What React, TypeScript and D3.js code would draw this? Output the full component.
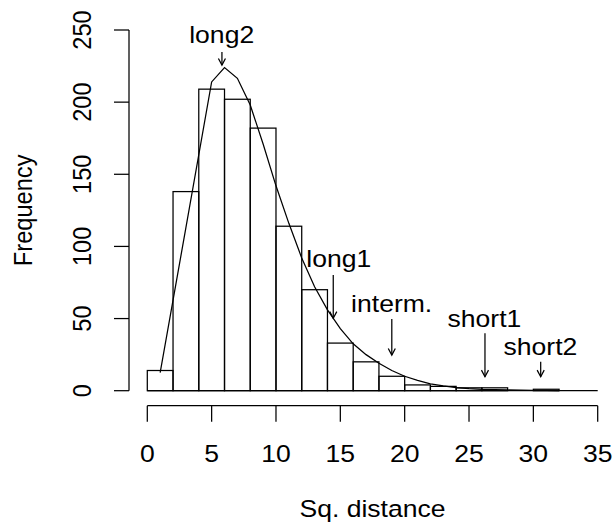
import React from "react";
import * as d3 from "d3";

// Histogram: bin breaks (width 2) and counts
const binStarts = [0, 2, 4, 6, 8, 10, 12, 14, 16, 18, 20, 22, 24, 26, 28, 30];
const binWidth = 2;
const counts = [14, 138, 209, 202, 182, 114, 70, 33, 20, 10, 4, 3, 2, 2, 0, 1];

// Fitted curve
const curveX = [1, 3, 5, 6, 7, 8, 9, 10, 11, 12, 13, 14, 15, 16, 17, 18, 19, 20, 21, 22, 23, 24, 25, 26, 27, 28, 29, 30, 31, 32];
const curveY = [12.5, 113, 214, 224, 216.5, 198, 171, 142, 116, 92, 72, 56, 43, 32.5, 25, 19, 14, 10, 7.2, 4.8, 3.3, 2.2, 1.5, 1.0, 0.7, 0.5, 0.35, 0.25, 0.17, 0.12];

// Annotations
const annLabels = ["long2", "long1", "interm.", "short1", "short2"];
const annLabelX = [5.78, 14.88, 18.99, 26.2, 30.55];
const annLabelY = [240.7, 85.9, 54.7, 44.4, 24.7];
const annArrowX = [5.8, 14.45, 19.0, 26.24, 30.57];
const annArrowTop = [234.7, 80.2, 49.7, 39.8, 20.1];
const annArrowTip = [225.7, 50.2, 24.7, 9.7, 9.7];

// Axes
const xTicks = [0, 5, 10, 15, 20, 25, 30, 35];
const yTicks = [0, 50, 100, 150, 200, 250];
const xLabel = "Sq. distance";
const yLabel = "Frequency";

const W = 614;
const H = 526;
const SX = 1.18;
const SY = 1.05;
const FS = 22.5;
const FONT = "'Liberation Sans', Arial, Helvetica, sans-serif";
const LW = 1.25;

export default function App() {
  const x = d3.scaleLinear().domain([0, 35]).range([147.3, 597.7]);
  const y = d3.scaleLinear().domain([0, 250]).range([390.7, 30]);

  const line = d3
    .line<number>()
    .x((_, i) => x(curveX[i]))
    .y((d) => y(d));

  const headLen = 7.5;
  const ang = (28 * Math.PI) / 180;
  const hdx = headLen * Math.sin(ang);
  const hdy = headLen * Math.cos(ang);

  const xAxisY = 405.7;
  const yAxisX = 129;

  return (
    <svg
      width={W}
      height={H}
      style={{ position: "absolute", left: 0, top: 0, background: "#fff" }}
      fontFamily={FONT}
    >
      <rect x={0} y={0} width={W} height={H} fill="#fff" />
      {/* bars */}
      <g fill="none" stroke="#000" strokeWidth={LW}>
        {counts.map((c, i) => (
          <rect
            key={i}
            x={x(binStarts[i])}
            y={y(c)}
            width={x(binStarts[i] + binWidth) - x(binStarts[i])}
            height={y(0) - y(c)}
          />
        ))}
        <line x1={x(0)} x2={x(35)} y1={y(0)} y2={y(0)} />
      </g>
      {/* curve */}
      <path d={line(curveY) || ""} fill="none" stroke="#000" strokeWidth={LW} />

      {/* annotations */}
      {annLabels.map((lab, i) => {
        const ax = x(annArrowX[i]);
        const y1 = y(annArrowTop[i]);
        const y2 = y(annArrowTip[i]);
        return (
          <g key={lab}>
            <text
              transform={`translate(${x(annLabelX[i])},${y(annLabelY[i])}) scale(${SX},${SY})`}
              textAnchor="middle"
              fontSize={FS}
            >
              {lab}
            </text>
            <g stroke="#000" strokeWidth={LW} fill="none">
              <line x1={ax} x2={ax} y1={y1} y2={y2} />
              <polyline points={`${ax - hdx},${y2 - hdy} ${ax},${y2} ${ax + hdx},${y2 - hdy}`} />
            </g>
          </g>
        );
      })}

      {/* x axis */}
      <g stroke="#000" strokeWidth={LW}>
        <line x1={x(xTicks[0])} x2={x(xTicks[xTicks.length - 1])} y1={xAxisY} y2={xAxisY} />
        {xTicks.map((t) => (
          <line key={t} x1={x(t)} x2={x(t)} y1={xAxisY} y2={xAxisY + 16} />
        ))}
      </g>
      {xTicks.map((t) => (
        <text
          key={t}
          transform={`translate(${x(t)},462.3) scale(${SX},${SY})`}
          textAnchor="middle"
          fontSize={FS}
        >
          {t}
        </text>
      ))}
      <text
        transform={`translate(${(x(0) + x(35)) / 2},517) scale(${SX},${SY})`}
        textAnchor="middle"
        fontSize={FS}
      >
        {xLabel}
      </text>

      {/* y axis */}
      <g stroke="#000" strokeWidth={LW}>
        <line x1={yAxisX} x2={yAxisX} y1={y(0)} y2={y(250)} />
        {yTicks.map((t) => (
          <line key={t} x1={yAxisX - 15} x2={yAxisX} y1={y(t)} y2={y(t)} />
        ))}
      </g>
      {yTicks.map((t) => (
        <text
          key={t}
          transform={`translate(91,${y(t)}) scale(${SX},${SY}) rotate(-90)`}
          textAnchor="middle"
          fontSize={FS}
        >
          {t}
        </text>
      ))}
      <text
        transform={`translate(32,${(y(0) + y(250)) / 2}) scale(${SX},${SY}) rotate(-90)`}
        textAnchor="middle"
        fontSize={FS}
      >
        {yLabel}
      </text>
    </svg>
  );
}
